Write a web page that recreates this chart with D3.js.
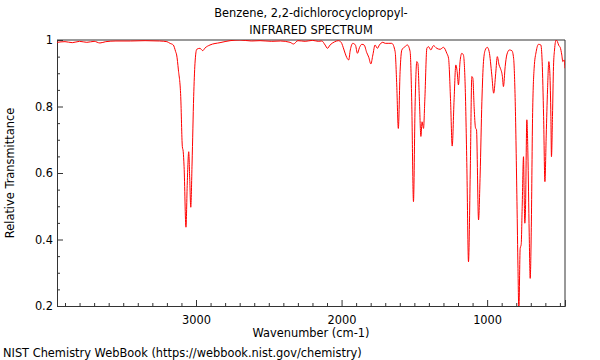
<!DOCTYPE html>
<html>
<head>
<meta charset="utf-8">
<script src="https://cdn.jsdelivr.net/npm/d3@7"></script>
<style>
  html, body { margin: 0; padding: 0; background: #fff; }
  svg { display: block; }
  text { font-family: "DejaVu Sans", sans-serif; fill: #000; }
</style>
</head>
<body>
<svg id="chart" width="600" height="360"></svg>
<script>
const titleLines = ["Benzene, 2,2-dichlorocyclopropyl-", "INFRARED SPECTRUM"];
const xLabel = "Wavenumber (cm-1)";
const yLabel = "Relative Transmittance";
const credit = "NIST Chemistry WebBook (https://webbook.nist.gov/chemistry)";
const xTicks = [3000, 2000, 1000];
const yTicks = [1, 0.8, 0.6, 0.4, 0.2];
const yTickLabels = ["1", "0.8", "0.6", "0.4", "0.2"];

const wavenumber = [3955,3900,3850,3800,3750,3700,3660,3620,3550,3450,3350,3250,3200,3179,3156,3140,3133,3121,3105,3094,3088,3082,3069,3060,3050,3043,3036,3027,3016,3007,2995,2973,2954,2938,2904,2835,2766,2698,2620,2560,2480,2420,2354,2330,2300,2250,2200,2160,2136,2113,2097,2079,2050,2022,2003,1983,1969,1951,1940,1923,1905,1891,1877,1861,1845,1827,1813,1799,1785,1770,1754,1740,1717,1700,1680,1655,1632,1621,1610,1598,1586,1564,1548,1529,1518,1506,1495,1483,1476,1465,1455,1447,1437,1428,1414,1403,1387,1369,1346,1323,1300,1277,1265,1251,1240,1227,1215,1206,1197,1186,1174,1163,1151,1139,1128,1116,1105,1098,1089,1080,1073,1059,1048,1036,1025,1013,999,986,968,955,941,930,918,909,895,888,876,865,847,830,818,807,795,788,782,773,766,759,750,746,741,737,727,720,711,704,697,688,677,663,647,631,622,612,603,594,585,576,569,562,558,551,544,537,526,517,507,498,487,480,471,465];
const transmittance = [0.993,0.995,0.992,0.996,0.993,0.996,0.991,0.995,0.997,0.997,0.998,0.997,0.995,0.99,0.985,0.965,0.955,0.91,0.83,0.68,0.665,0.62,0.437,0.57,0.664,0.58,0.497,0.63,0.83,0.93,0.972,0.975,0.968,0.976,0.985,0.992,0.998,1.0,0.997,0.998,0.996,0.997,0.993,0.988,0.998,0.996,0.999,0.996,0.997,0.985,0.975,0.985,0.994,0.998,0.993,0.97,0.952,0.94,0.97,0.99,0.985,0.96,0.977,0.987,0.985,0.962,0.948,0.928,0.955,0.985,0.975,0.985,0.993,0.99,0.99,0.99,0.965,0.865,0.734,0.905,0.97,0.98,0.985,0.965,0.815,0.514,0.8,0.935,0.93,0.815,0.71,0.754,0.734,0.82,0.975,0.98,0.97,0.983,0.975,0.972,0.978,0.96,0.945,0.815,0.681,0.82,0.925,0.905,0.865,0.935,0.96,0.955,0.865,0.614,0.333,0.6,0.89,0.885,0.795,0.736,0.73,0.459,0.594,0.815,0.935,0.97,0.978,0.965,0.895,0.84,0.9,0.95,0.925,0.915,0.89,0.86,0.92,0.955,0.97,0.968,0.945,0.815,0.514,0.313,0.185,0.373,0.385,0.5,0.649,0.55,0.449,0.48,0.76,0.66,0.42,0.283,0.42,0.764,0.915,0.965,0.987,0.985,0.935,0.77,0.574,0.714,0.85,0.935,0.9,0.77,0.649,0.77,0.92,0.97,1.0,0.995,0.983,0.978,0.955,0.935,0.94,0.915];

const FS = 11.4;
const svg = d3.select("#chart");
const m = {left: 57, right: 565, top: 40, bottom: 306};

const x = d3.scaleLinear().domain([3955, 465]).range([m.left, m.right]);
const y = d3.scaleLinear().domain([0.2, 1]).range([m.bottom, m.top]);

svg.append("defs").append("clipPath").attr("id", "clip")
  .append("rect").attr("x", m.left).attr("y", m.top)
  .attr("width", m.right - m.left).attr("height", m.bottom - m.top);

// frame
svg.append("line").attr("x1", m.left).attr("x2", m.right).attr("y1", m.top).attr("y2", m.top)
  .attr("stroke", "#999").attr("stroke-width", 2);
svg.append("line").attr("x1", m.right).attr("x2", m.right).attr("y1", m.top).attr("y2", m.bottom)
  .attr("stroke", "#333").attr("stroke-width", 1);

// x axis
const xMinor = d3.range(3900, 465, -100).filter(v => v % 1000 !== 0);
const gx = svg.append("g").attr("transform", `translate(0,${m.bottom})`);
gx.call(d3.axisBottom(x).tickValues(xMinor).tickSize(-3).tickFormat(""))
  .call(g => g.select(".domain").remove());
gx.append("g").call(d3.axisBottom(x).tickValues(xTicks).tickSize(-6).tickPadding(10).tickFormat(d3.format("d")))
  .call(g => g.select(".domain").attr("stroke", "#333"))
  .call(g => g.selectAll("text").attr("font-size", FS).attr("font-family", "DejaVu Sans").attr("fill", "#000"));
gx.selectAll("line").attr("stroke", "#333");

// y axis
const yMinor = d3.range(0.25, 1.0, 0.05).filter(v => Math.abs(v * 5 - Math.round(v * 5)) > 1e-6);
const gy = svg.append("g").attr("transform", `translate(${m.left},0)`);
gy.call(d3.axisLeft(y).tickValues(yMinor).tickSize(-3).tickFormat(""))
  .call(g => g.select(".domain").remove());
gy.append("g").call(d3.axisLeft(y).tickValues(yTicks).tickSize(-6)
    .tickFormat((d, i) => yTickLabels[i]))
  .call(g => g.select(".domain").attr("stroke", "#333"))
  .call(g => g.selectAll("text").attr("font-size", FS).attr("font-family", "DejaVu Sans").attr("fill", "#000").attr("x", -4));
gy.selectAll("line").attr("stroke", "#333");

// spectrum
const pts = wavenumber.map((w, i) => [w, transmittance[i]]);
svg.append("path").datum(pts)
  .attr("clip-path", "url(#clip)")
  .attr("fill", "none").attr("stroke", "#ff0000").attr("stroke-width", 1)
  .attr("d", d3.line().x(d => x(d[0])).y(d => y(d[1])).curve(d3.curveMonotoneX));

// texts
const cx = (m.left + m.right) / 2;
svg.append("text").attr("x", cx).attr("y", 17).attr("text-anchor", "middle").attr("font-size", FS).text(titleLines[0]);
svg.append("text").attr("x", cx).attr("y", 34).attr("text-anchor", "middle").attr("font-size", FS).text(titleLines[1]);
svg.append("text").attr("x", cx).attr("y", 337).attr("text-anchor", "middle").attr("font-size", FS).text(xLabel);
svg.append("text").attr("transform", `translate(14,${(m.top + m.bottom) / 2}) rotate(-90)`)
  .attr("text-anchor", "middle").attr("font-size", FS).text(yLabel);
svg.append("text").attr("x", 3).attr("y", 357).attr("font-size", FS).text(credit);
</script>
</body>
</html>
